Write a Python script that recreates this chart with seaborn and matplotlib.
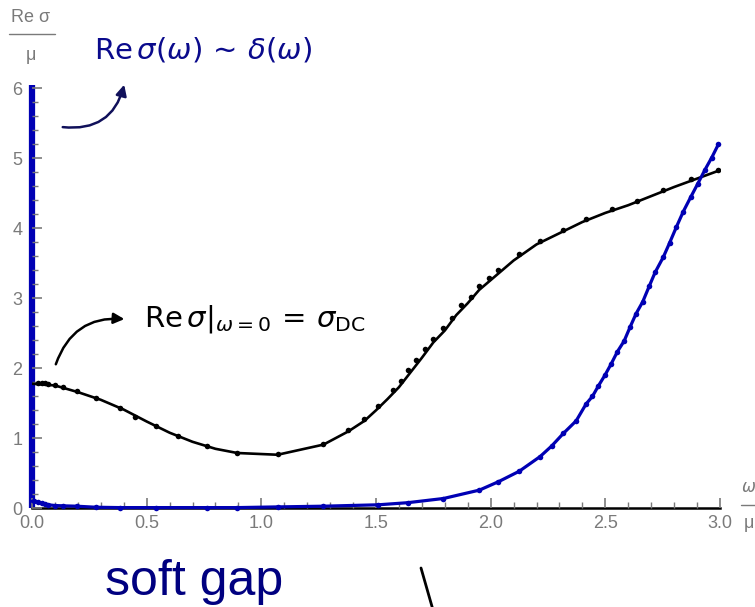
import numpy as np
import pandas as pd
import matplotlib
matplotlib.use("Agg")
import matplotlib.pyplot as plt
import seaborn as sns
from matplotlib.patches import FancyArrowPatch
from matplotlib.lines import Line2D
from matplotlib.ticker import MultipleLocator

# Re sigma / mu, numerical points (black) and model curve
black_dot_w = [0.027, 0.042, 0.057, 0.071, 0.10, 0.137, 0.195, 0.279, 0.384, 0.449,
               0.541, 0.638, 0.762, 0.895, 1.071, 1.271, 1.38, 1.449, 1.508, 1.572,
               1.61, 1.641, 1.675, 1.714, 1.75, 1.794, 1.83, 1.87, 1.913, 1.951,
               1.994, 2.034, 2.125, 2.216, 2.317, 2.416, 2.528, 2.637, 2.753, 2.873, 2.993]
black_dot_s = [1.786, 1.786, 1.786, 1.78, 1.76, 1.73, 1.67, 1.58, 1.43, 1.31,
               1.17, 1.03, 0.89, 0.79, 0.77, 0.92, 1.12, 1.28, 1.46, 1.69,
               1.82, 1.97, 2.12, 2.27, 2.42, 2.57, 2.72, 2.90, 3.02, 3.17,
               3.29, 3.40, 3.64, 3.82, 3.98, 4.13, 4.27, 4.39, 4.55, 4.70, 4.84]

black_line_w = [0.0, 0.1, 0.2, 0.3, 0.4, 0.5, 0.6, 0.7, 0.8, 0.895, 1.071, 1.271,
                1.38, 1.45, 1.5, 1.55, 1.6, 1.65, 1.7, 1.75, 1.8, 1.85, 1.9, 1.95,
                2.0, 2.05, 2.1, 2.2, 2.3, 2.4, 2.5, 2.6, 2.7, 2.8, 2.9, 3.0]
black_line_s = [1.78, 1.755, 1.66, 1.55, 1.41, 1.24, 1.08, 0.95, 0.85, 0.79, 0.765, 0.91,
                1.10, 1.25, 1.40, 1.56, 1.73, 1.94, 2.15, 2.37, 2.54, 2.76, 2.93, 3.12,
                3.26, 3.40, 3.54, 3.77, 3.93, 4.09, 4.22, 4.33, 4.46, 4.59, 4.71, 4.83]

# soft-gap branch (blue)
blue_w = [0.01, 0.027, 0.042, 0.057, 0.071, 0.10, 0.137, 0.195, 0.279, 0.384,
          0.541, 0.762, 0.895, 1.071, 1.271, 1.51, 1.638, 1.794, 1.951, 2.034,
          2.125, 2.216, 2.266, 2.317, 2.373, 2.416, 2.444, 2.47, 2.498, 2.525,
          2.553, 2.582, 2.608, 2.634, 2.663, 2.691, 2.717, 2.753, 2.78, 2.81,
          2.84, 2.873, 2.902, 2.935, 2.964, 2.993]
blue_s = [0.10, 0.09, 0.07, 0.06, 0.05, 0.04, 0.035, 0.03, 0.015, 0.01,
          0.01, 0.01, 0.01, 0.02, 0.03, 0.05, 0.08, 0.14, 0.26, 0.38,
          0.53, 0.74, 0.89, 1.07, 1.25, 1.49, 1.60, 1.75, 1.90, 2.06,
          2.24, 2.39, 2.59, 2.78, 2.95, 3.17, 3.37, 3.59, 3.79, 4.02,
          4.24, 4.45, 4.63, 4.84, 5.01, 5.20]
blue_line_w = [0.0] + blue_w
blue_line_s = [0.10] + blue_s

# delta peak at omega = 0
delta_w = [0.0, 0.0]
delta_s = [0.0, 6.05]

x_ticks = [0.0, 0.5, 1.0, 1.5, 2.0, 2.5, 3.0]
x_tick_labels = ["0.0", "0.5", "1.0", "1.5", "2.0", "2.5", "3.0"]
y_ticks = [0, 1, 2, 3, 4, 5, 6]

sns.set_theme(style="white")
plt.rcParams["font.family"] = ["Liberation Sans", "DejaVu Sans"]
plt.rcParams["mathtext.fontset"] = "dejavusans"

BLUE = "#0000b4"
NAVY = "#0a0a8c"
GRAY = "#7a7a7a"

fig = plt.figure(figsize=(7.55, 6.07), dpi=100)
ax = fig.add_axes([32 / 755, (607 - 508.3) / 607, 688 / 755, 420 / 607])
ax.set_xlim(0, 3.0)
ax.set_ylim(0, 6.0)

# delta function bar
sns.lineplot(x=delta_w, y=delta_s, ax=ax, color=BLUE, linewidth=4.5,
             sort=False, estimator=None, solid_capstyle="butt", zorder=2,
             clip_on=False)

sns.lineplot(x=black_line_w, y=black_line_s, ax=ax, color="black", linewidth=1.9,
             sort=False, estimator=None, zorder=3)
sns.scatterplot(x=black_dot_w, y=black_dot_s, ax=ax, color="black", s=16,
                linewidth=0, zorder=4)

sns.lineplot(x=blue_line_w, y=blue_line_s, ax=ax, color=BLUE, linewidth=2.3,
             sort=False, estimator=None, zorder=3, clip_on=False)
sns.scatterplot(x=blue_w, y=blue_s, ax=ax, color=BLUE, s=16, linewidth=0,
                zorder=4, clip_on=False)

# axes styling
for side in ["top", "right", "left"]:
    ax.spines[side].set_visible(False)
ax.spines["bottom"].set_color("black")
ax.spines["bottom"].set_linewidth(1.8)
ax.set_axisbelow(False)

ax.set_xticks(x_ticks)
ax.set_xticklabels(x_tick_labels)
ax.set_yticks(y_ticks)
ax.xaxis.set_minor_locator(MultipleLocator(0.1))
ax.yaxis.set_minor_locator(MultipleLocator(0.2))
ax.tick_params(axis="both", which="major", direction="in", length=7, width=1.2,
               color=GRAY, labelcolor=GRAY, labelsize=13)
ax.tick_params(axis="both", which="minor", direction="in", length=4, width=1.0,
               color=GRAY)
ax.tick_params(axis="x", which="both", bottom=True, pad=5)
ax.tick_params(axis="y", which="both", left=True, pad=7)
ax.set_xlabel("")
ax.set_ylabel("")
ax.grid(False)

# y-axis label as a fraction
fig.text(31 / 755, 1 - 18 / 607, "Re σ", color=GRAY, fontsize=13,
         ha="center", va="center")
fig.add_artist(Line2D([9 / 755, 55 / 755], [1 - 34 / 607, 1 - 34 / 607],
                      color=GRAY, linewidth=1.0))
fig.text(31 / 755, 1 - 56 / 607, "μ", color=GRAY, fontsize=13,
         ha="center", va="center")

# x-axis label as a fraction
fig.text(749 / 755, 1 - 487 / 607, r"$\omega$", color=GRAY, fontsize=12,
         ha="center", va="center")
fig.add_artist(Line2D([741 / 755, 757 / 755], [1 - 505 / 607, 1 - 505 / 607],
                      color=GRAY, linewidth=1.0))
fig.text(749 / 755, 1 - 523 / 607, "μ", color=GRAY, fontsize=13,
         ha="center", va="center")

# annotations
ax.text(0.27, 6.55, r"$\mathrm{Re}\,\sigma(\omega)\,\sim\,\delta(\omega)$",
        color=NAVY, fontsize=21, ha="left", va="center")
arr1 = FancyArrowPatch((0.122, 5.45), (0.405, 6.09), connectionstyle="arc3,rad=0.45",
                       arrowstyle="-|>", mutation_scale=16, color="#10105a",
                       linewidth=1.8, clip_on=False)
ax.add_patch(arr1)

ax.text(0.49, 2.70, r"$\mathrm{Re}\,\sigma|_{\omega{=}0}\,=\,\sigma_{\mathrm{DC}}$",
        color="black", fontsize=21, ha="left", va="center")
arr2 = FancyArrowPatch((0.10, 2.02), (0.415, 2.70), connectionstyle="arc3,rad=-0.4",
                       arrowstyle="-|>", mutation_scale=16, color="black",
                       linewidth=1.8, clip_on=False)
ax.add_patch(arr2)

fig.text(105 / 755, 1 - 582 / 607, "soft gap", color="#000080", fontsize=36,
         ha="left", va="center")
fig.add_artist(Line2D([421 / 755, 433 / 755], [1 - 568 / 607, 1 - 610 / 607],
                      color="black", linewidth=2.0))

fig.savefig("out.png", dpi=100)
